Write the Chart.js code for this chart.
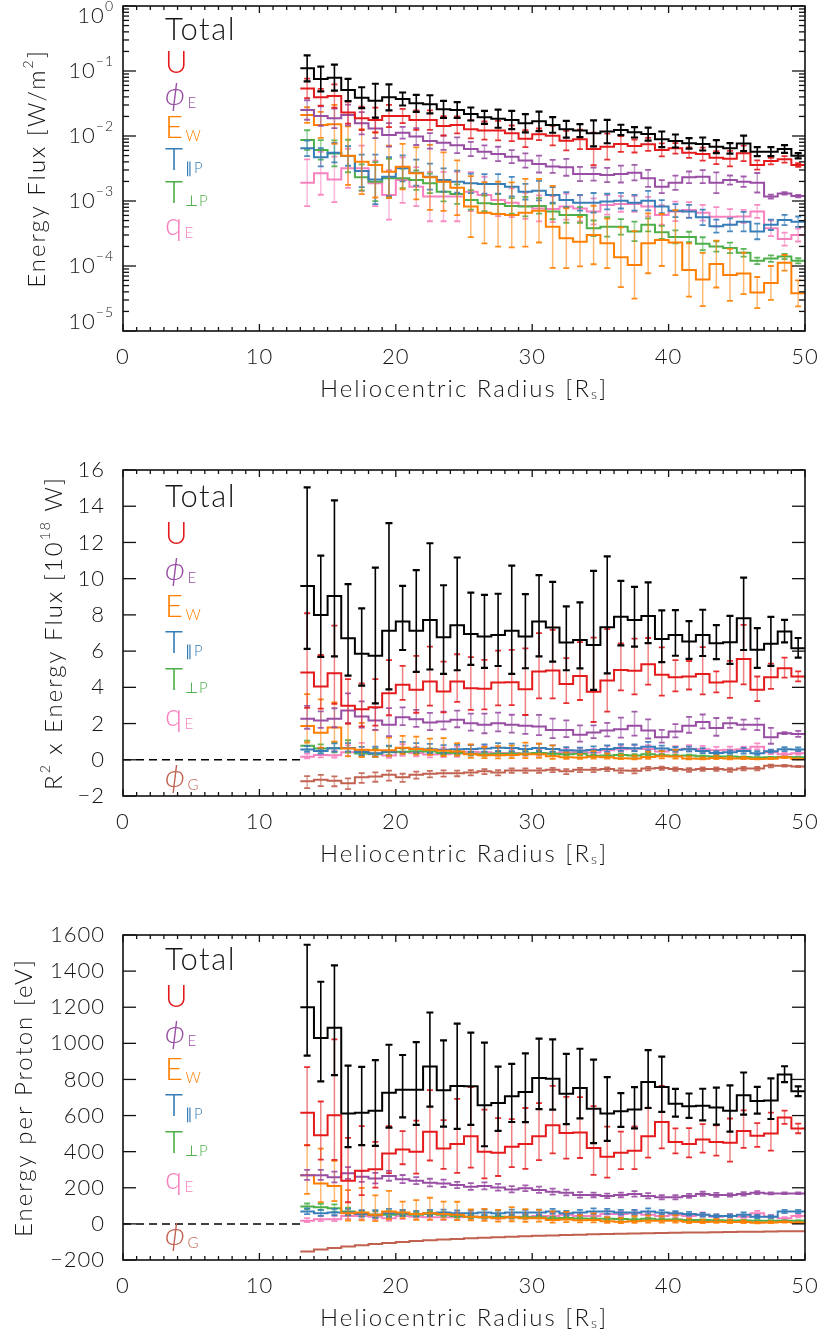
<!DOCTYPE html>
<html><head><meta charset="utf-8">
<script src="https://cdn.jsdelivr.net/npm/chart.js@4.4.0/dist/chart.umd.min.js"></script>
<style>
html,body{margin:0;padding:0;background:#fff;}
#wrap{position:relative;width:823px;height:1338px;overflow:hidden;background:#fff;}
canvas{position:absolute;left:0;}
</style></head><body>
<div id="wrap">
<canvas id="c1" width="823" height="440" style="top:-20px"></canvas>
<canvas id="c2" width="823" height="460" style="top:420px"></canvas>
<canvas id="c3" width="823" height="458" style="top:880px"></canvas>
</div>
<script>
// ---------------- DATA ----------------
const radius = [13.5,14.5,15.5,16.5,17.5,18.5,19.5,20.5,21.5,22.5,23.5,24.5,25.5,26.5,27.5,28.5,29.5,30.5,31.5,32.5,33.5,34.5,35.5,36.5,37.5,38.5,39.5,40.5,41.5,42.5,43.5,44.5,45.5,46.5,47.5,48.5,49.5];
const binHalf = 0.5;

// Panel 1: energy flux [W/m^2]; errors given in dex (log10 half-width)
const flux_total = [0.110,0.0753,0.0789,0.0510,0.0389,0.0350,0.0394,0.0371,0.0318,0.0307,0.0257,0.0251,0.0218,0.0194,0.0185,0.0176,0.0157,0.0168,0.0148,0.0127,0.0121,0.0110,0.0117,0.0124,0.0114,0.0107,0.00889,0.00838,0.00771,0.00753,0.00686,0.00646,0.0077,0.00574,0.00574,0.00631,0.00498];
const fluxErr_total = [0.20,0.19,0.20,0.17,0.16,0.26,0.20,0.10,0.13,0.14,0.13,0.12,0.10,0.10,0.14,0.14,0.14,0.15,0.12,0.13,0.10,0.20,0.18,0.08,0.08,0.10,0.12,0.10,0.08,0.10,0.10,0.08,0.12,0.07,0.07,0.06,0.04];
const flux_U = [0.054,0.0394,0.0412,0.0229,0.0187,0.0176,0.0203,0.0203,0.0176,0.0176,0.0143,0.0148,0.0127,0.0121,0.0121,0.0110,0.0091,0.0106,0.0101,0.00848,0.00889,0.00631,0.00686,0.00753,0.00702,0.00745,0.0061,0.00646,0.00554,0.00528,0.00464,0.00448,0.00541,0.00358,0.00412,0.00437,0.00358];
const fluxErr_U = [0.15,0.13,0.18,0.17,0.18,0.19,0.17,0.11,0.15,0.15,0.15,0.13,0.14,0.14,0.15,0.12,0.13,0.09,0.15,0.15,0.15,0.25,0.20,0.12,0.10,0.10,0.10,0.08,0.08,0.10,0.10,0.12,0.12,0.07,0.05,0.05,0.03];
const flux_phiE = [0.0251,0.0203,0.0187,0.0210,0.0157,0.0131,0.0104,0.0112,0.0098,0.0084,0.0079,0.0072,0.0063,0.0057,0.0053,0.0048,0.0042,0.0037,0.0034,0.0033,0.0026,0.0026,0.00251,0.0026,0.00273,0.00223,0.00166,0.00191,0.00231,0.00237,0.00191,0.0021,0.00198,0.00191,0.00117,0.00131,0.00119];
const fluxErr_phiE = [0.15,0.15,0.15,0.16,0.17,0.15,0.18,0.09,0.13,0.12,0.11,0.12,0.11,0.10,0.11,0.10,0.11,0.13,0.10,0.13,0.11,0.10,0.11,0.13,0.12,0.13,0.10,0.11,0.09,0.10,0.16,0.07,0.08,0.15,0.03,0.02,0.02];
const flux_Ew = [0.0210,0.0148,0.0151,0.00498,0.00403,0.00358,0.00282,0.00337,0.00267,0.00231,0.00198,0.0016,0.00082,0.00066,0.00063,0.00061,0.00066,0.00071,0.00040,0.000267,0.000237,0.0003,0.000223,0.000136,0.000104,0.000223,0.000251,0.000229,8.7e-5,6.2e-5,1.07e-4,7.3e-5,7.7e-5,3.9e-5,5.5e-5,1.12e-4,3.8e-5];
const fluxErr_Ew = [0.12,0.20,0.30,0.45,0.50,0.50,0.40,0.35,0.40,0.50,0.45,0.42,0.47,0.47,0.50,0.50,0.52,0.49,0.63,0.46,0.38,0.45,0.38,0.46,0.52,0.46,0.40,0.50,0.41,0.41,0.36,0.40,0.32,0.24,0.26,0.12,0.20];
const flux_Tpar = [0.00646,0.0047,0.00554,0.00492,0.0029,0.00215,0.00237,0.00318,0.00273,0.00237,0.0021,0.00198,0.00187,0.00183,0.00183,0.00166,0.00139,0.00144,0.00124,0.00104,0.00094,0.00094,0.00098,0.00101,0.00094,0.00101,0.00082,0.00071,0.00069,0.00056,0.00041,0.00043,0.00048,0.00034,0.00043,0.00051,0.00048];
const fluxErr_Tpar = [0.12,0.14,0.15,0.15,0.25,0.38,0.30,0.20,0.20,0.20,0.18,0.17,0.15,0.15,0.15,0.15,0.12,0.15,0.12,0.12,0.12,0.15,0.12,0.12,0.12,0.15,0.10,0.10,0.10,0.12,0.10,0.10,0.15,0.12,0.08,0.08,0.08];
const flux_Tperp = [0.00868,0.0061,0.0054,0.00492,0.00231,0.00198,0.00223,0.00223,0.0021,0.00187,0.00139,0.00128,0.00104,0.00092,0.0009,0.00084,0.00082,0.00084,0.00069,0.00061,0.00061,0.00038,0.0004,0.0004,0.00034,0.00043,0.00033,0.00028,0.00028,0.00022,0.0002,0.00019,0.00016,0.00012,0.00013,0.00014,0.00012];
const fluxErr_Tperp = [0.15,0.15,0.20,0.25,0.20,0.30,0.30,0.15,0.15,0.15,0.15,0.15,0.15,0.12,0.15,0.12,0.15,0.12,0.12,0.12,0.12,0.12,0.15,0.12,0.15,0.10,0.10,0.10,0.08,0.10,0.08,0.08,0.06,0.05,0.05,0.04,0.04];
const flux_qE = [0.00191,0.00267,0.00215,0.00318,0.00318,0.00187,0.00124,0.0021,0.00166,0.00117,0.00117,0.00117,0.00139,0.00124,0.00104,0.00094,0.00084,0.00077,0.00075,0.00082,0.00077,0.00069,0.00087,0.0009,0.0009,0.00082,0.00061,0.00069,0.00073,0.00066,0.00057,0.00057,0.00058,0.00069,0.00038,0.00026,0.0003];
const fluxErr_qE = [0.36,0.33,0.35,0.30,0.35,0.35,0.38,0.35,0.30,0.38,0.38,0.38,0.30,0.28,0.25,0.22,0.20,0.20,0.20,0.20,0.20,0.20,0.15,0.12,0.12,0.15,0.15,0.15,0.12,0.12,0.15,0.12,0.10,0.10,0.12,0.10,0.10];

// Panel 2: R^2 x energy flux [10^18 W]
const pow_total = [9.60,8.00,9.04,6.71,5.85,5.75,7.13,7.63,7.13,7.72,6.76,7.43,6.95,6.80,6.89,7.13,6.80,7.63,7.30,6.47,6.62,6.34,7.32,7.90,7.72,7.94,6.67,6.89,6.53,6.89,6.43,6.49,7.81,6.07,6.40,7.08,6.16];
const powErr_total = [0.195,0.149,0.2,0.16,0.155,0.266,0.263,0.1,0.167,0.19,0.154,0.177,0.123,0.127,0.124,0.177,0.129,0.126,0.129,0.117,0.118,0.216,0.186,0.097,0.092,0.091,0.092,0.079,0.069,0.08,0.063,0.088,0.11,0.078,0.091,0.038,0.038];
const pow_U = [4.82,4.04,4.78,2.98,2.79,2.90,3.68,4.14,3.86,4.32,3.77,4.32,3.95,3.92,4.26,4.28,3.90,4.87,4.93,4.19,4.63,3.75,4.38,4.96,4.91,5.28,4.69,4.56,4.60,4.74,4.26,4.32,5.57,3.86,4.56,5.06,4.60];
const powErr_U = [0.225,0.156,0.19,0.174,0.18,0.186,0.175,0.098,0.172,0.16,0.158,0.13,0.157,0.148,0.151,0.152,0.198,0.157,0.163,0.127,0.147,0.255,0.217,0.112,0.134,0.105,0.122,0.082,0.074,0.118,0.059,0.102,0.126,0.076,0.066,0.047,0.026];
const pow_phiE = [2.26,2.17,2.26,2.72,2.39,2.17,1.93,2.35,2.24,2.06,2.11,2.21,2.02,1.93,2.02,1.93,1.88,1.84,1.65,1.65,1.38,1.51,1.62,1.69,1.88,1.62,1.25,1.56,1.88,2.08,1.75,2.02,1.93,1.93,1.25,1.47,1.42];
const powErr_phiE = [0.12,0.09,0.10,0.13,0.13,0.12,0.17,0.09,0.09,0.10,0.10,0.09,0.10,0.12,0.11,0.11,0.12,0.13,0.14,0.12,0.14,0.10,0.10,0.14,0.15,0.14,0.12,0.10,0.10,0.08,0.12,0.06,0.06,0.07,0.15,0.015,0.05];
const pow_Ew = [1.86,1.49,1.78,0.62,0.56,0.52,0.52,0.66,0.60,0.56,0.50,0.46,0.30,0.25,0.25,0.26,0.30,0.30,0.20,0.14,0.13,0.17,0.14,0.09,0.07,0.16,0.19,0.18,0.073,0.054,0.098,0.07,0.077,0.041,0.06,0.128,0.045];
const powErr_Ew = [0.29,0.35,0.25,0.51,0.56,0.50,0.37,0.30,0.33,0.32,0.38,0.30,0.45,0.45,0.48,0.48,0.50,0.47,0.60,0.45,0.38,0.45,0.38,0.45,0.50,0.45,0.40,0.48,0.40,0.40,0.36,0.40,0.32,0.24,0.26,0.12,0.20];
const pow_Tpar = [0.57,0.48,0.64,0.65,0.43,0.36,0.44,0.65,0.61,0.58,0.56,0.58,0.59,0.62,0.67,0.65,0.59,0.65,0.60,0.53,0.51,0.54,0.60,0.65,0.64,0.72,0.62,0.56,0.58,0.49,0.38,0.41,0.48,0.36,0.47,0.58,0.57];
const powErr_Tpar = [0.12,0.14,0.15,0.15,0.22,0.30,0.25,0.18,0.18,0.18,0.16,0.15,0.14,0.14,0.14,0.14,0.12,0.14,0.12,0.12,0.12,0.14,0.12,0.12,0.12,0.14,0.10,0.10,0.10,0.12,0.10,0.10,0.14,0.12,0.08,0.08,0.08];
const pow_Tperp = [0.77,0.62,0.63,0.65,0.34,0.33,0.41,0.45,0.47,0.46,0.37,0.37,0.33,0.31,0.33,0.33,0.35,0.38,0.33,0.31,0.33,0.22,0.24,0.26,0.23,0.31,0.25,0.22,0.23,0.19,0.18,0.18,0.16,0.13,0.14,0.16,0.14];
const powErr_Tperp = [0.14,0.14,0.18,0.22,0.18,0.26,0.26,0.14,0.14,0.14,0.14,0.14,0.14,0.12,0.14,0.12,0.14,0.12,0.12,0.12,0.12,0.12,0.14,0.12,0.14,0.10,0.10,0.10,0.08,0.10,0.08,0.08,0.06,0.05,0.05,0.04,0.04];
const pow_qE = [0.17,0.27,0.25,0.42,0.47,0.31,0.23,0.43,0.37,0.29,0.31,0.34,0.44,0.42,0.38,0.37,0.35,0.35,0.36,0.42,0.42,0.40,0.53,0.58,0.61,0.59,0.46,0.55,0.61,0.58,0.52,0.55,0.58,0.72,0.41,0.30,0.36];
const powErr_qE = [0.30,0.30,0.30,0.28,0.30,0.30,0.33,0.30,0.28,0.33,0.33,0.33,0.28,0.26,0.24,0.20,0.20,0.20,0.20,0.18,0.18,0.18,0.15,0.12,0.12,0.14,0.14,0.14,0.12,0.12,0.14,0.12,0.10,0.10,0.12,0.10,0.10];
const pow_phiG = [-1.19,-1.10,-1.16,-1.29,-0.97,-0.92,-0.83,-0.97,-0.83,-0.77,-0.74,-0.74,-0.70,-0.64,-0.70,-0.59,-0.59,-0.59,-0.55,-0.64,-0.55,-0.55,-0.51,-0.59,-0.61,-0.48,-0.46,-0.51,-0.55,-0.51,-0.51,-0.55,-0.48,-0.48,-0.33,-0.33,-0.37];
const powErr_phiG = [0.12,0.12,0.10,0.10,0.12,0.12,0.14,0.10,0.10,0.10,0.10,0.09,0.09,0.09,0.09,0.09,0.09,0.09,0.09,0.09,0.09,0.09,0.09,0.09,0.09,0.09,0.08,0.08,0.08,0.08,0.08,0.08,0.08,0.08,0.10,0.06,0.04];

// Panel 3: energy per proton [eV]
const epp_total = [1200,1029,1086,611,616,626,727,743,743,872,740,764,762,657,670,707,730,808,804,721,753,638,611,624,633,786,758,666,651,655,644,626,712,681,684,828,734];
const eppErr_total = [0.11,0.115,0.12,0.157,0.15,0.161,0.135,0.1,0.132,0.128,0.138,0.162,0.143,0.184,0.114,0.098,0.112,0.104,0.104,0.116,0.11,0.154,0.124,0.065,0.078,0.088,0.087,0.05,0.045,0.058,0.069,0.088,0.071,0.047,0.071,0.023,0.016];
const epp_U = [615,491,602,239,294,302,390,412,399,510,418,442,486,399,394,427,442,486,546,504,506,421,372,394,405,486,565,454,442,467,454,449,515,488,500,589,528];
const eppErr_U = [0.15,0.14,0.23,0.30,0.265,0.177,0.142,0.096,0.156,0.162,0.138,0.195,0.193,0.2,0.172,0.133,0.162,0.139,0.146,0.145,0.142,0.19,0.161,0.113,0.125,0.122,0.131,0.066,0.079,0.073,0.08,0.114,0.087,0.058,0.091,0.027,0.022];
const epp_phiE = [270,270,258,280,261,252,265,247,239,228,224,215,206,210,202,191,197,188,178,173,160,160,155,160,166,155,147,147,155,166,160,160,166,173,169,169,169];
const eppErr_phiE = [0.045,0.045,0.05,0.05,0.05,0.05,0.045,0.04,0.035,0.04,0.04,0.035,0.04,0.04,0.04,0.04,0.035,0.04,0.04,0.04,0.04,0.035,0.035,0.035,0.04,0.04,0.035,0.035,0.03,0.03,0.03,0.025,0.025,0.02,0.015,0.012,0.012];
const epp_Ew = [270,224,210,59,63,50,68,63,55,59,55,50,40,37,31,37,31,31,22,25,20,22,15,12,15,18,18,18,12,10,12,10,10,6,8,10,6];
const eppErr_Ew = [0.21,0.27,0.22,0.5,0.5,0.5,0.43,0.29,0.38,0.39,0.35,0.39,0.3,0.35,0.4,0.4,0.42,0.4,0.5,0.42,0.38,0.42,0.38,0.42,0.45,0.42,0.38,0.42,0.38,0.38,0.35,0.38,0.3,0.25,0.25,0.12,0.2];
const epp_Tpar = [68,59,63,63,55,50,59,59,55,59,63,59,59,63,59,63,63,63,68,59,63,68,68,63,63,68,63,59,55,50,44,44,50,40,40,68,68];
const eppErr_Tpar = [0.1,0.12,0.12,0.12,0.14,0.18,0.15,0.12,0.12,0.12,0.1,0.1,0.1,0.1,0.1,0.1,0.09,0.1,0.09,0.09,0.09,0.1,0.09,0.09,0.09,0.1,0.08,0.08,0.08,0.09,0.08,0.08,0.1,0.09,0.07,0.06,0.06];
const epp_Tperp = [96,92,86,68,55,50,50,55,50,55,50,44,40,37,40,37,37,37,31,32,30,28,28,27,25,28,25,24,22,21,20,19,19,18,18,18,17];
const eppErr_Tperp = [0.07,0.08,0.1,0.12,0.12,0.15,0.15,0.1,0.1,0.1,0.1,0.1,0.1,0.09,0.1,0.09,0.1,0.09,0.09,0.09,0.09,0.09,0.1,0.09,0.1,0.08,0.08,0.08,0.07,0.08,0.07,0.07,0.06,0.05,0.05,0.04,0.04];
const epp_qE = [18,26,26,44,44,40,31,44,40,37,37,37,40,40,37,40,40,44,44,50,44,44,55,55,59,50,44,50,44,50,40,44,40,59,40,31,44];
const eppErr_qE = [0.25,0.22,0.24,0.2,0.22,0.22,0.25,0.22,0.2,0.24,0.24,0.24,0.2,0.18,0.16,0.15,0.14,0.14,0.14,0.14,0.14,0.14,0.12,0.1,0.1,0.12,0.12,0.12,0.1,0.1,0.12,0.1,0.08,0.09,0.1,0.08,0.08];
const epp_phiG = [-153,-142,-133,-125,-118,-111,-106,-100,-95,-91,-87,-83,-80,-77,-74,-71,-68,-66,-64,-62,-60,-58,-56,-55,-53,-52,-50,-49,-48,-47,-46,-45,-44,-43,-42,-41,-41];

// zero reference line (dashed) extent along x
const zeroLineX = [0, 13];

// tick values / labels
const xTicks = [0,10,20,30,40,50];
const xTickLabels = ['0','10','20','30','40','50'];
const logTicks = [1e-5,1e-4,1e-3,1e-2,1e-1,1];
const logTickBase = '10';
const logTickExp = ['\u22125','\u22124','\u22123','\u22122','\u22121','0'];
const powTicks = [-2,0,2,4,6,8,10,12,14,16];
const powTickLabels = ['\u22122','0','2','4','6','8','10','12','14','16'];
const eppTicks = [-200,0,200,400,600,800,1000,1200,1400,1600];
const eppTickLabels = ['\u2212200','0','200','400','600','800','1000','1200','1400','1600'];

// legend
const seriesMain = ['Total','U','\u03D5','E','T','T','q','\u03D5'];
const seriesSub  = ['','','E','W','\u2225P','\u22A5P','E','G'];
const seriesColor = ['#000000','#e41a1c','#984ea3','#ff7f00','#377eb8','#4daf4a','#f781bf','#c1614f'];

// ---------------- RENDERING ----------------
const FONT = "'Lato','DejaVu Sans',sans-serif";
const TXT = '#151515';

function stepPts(vals){
  const pts = radius.map((c,i)=>({x:c-binHalf, y:vals[i]}));
  pts.push({x:radius[radius.length-1]+binHalf, y:vals[vals.length-1]});
  return pts;
}
function rgba(hex,a){
  const n=parseInt(hex.slice(1),16);
  return `rgba(${(n>>16)&255},${(n>>8)&255},${n&255},${a})`;
}
function series(vals, errs, k){
  return {data:stepPts(vals), vals, errs, stepped:'before', borderColor:seriesColor[k],
    borderWidth:2, pointRadius:0, fill:false, order:k, tension:0, isBlack:k===0};
}
function zeroLine(){
  return {data:[{x:zeroLineX[0],y:0},{x:zeroLineX[1],y:0}], borderColor:'#000', borderWidth:1.5,
    borderDash:[8,5], pointRadius:0, fill:false, order:20};
}

const errPlugin = {
  id:'errbars',
  beforeDraw(chart){ chart.ctx.letterSpacing='1px'; },
  afterDatasetDraw(chart, args){
    const ds = chart.data.datasets[args.index];
    if(!ds.errs) return;
    const {ctx, chartArea:a, scales:{x,y}} = chart;
    ctx.save();
    ctx.beginPath(); ctx.rect(a.left,a.top,a.right-a.left,a.bottom-a.top); ctx.clip();
    const col = ds.borderColor;
    radius.forEach((c,i)=>{
      const v = ds.vals[i], f = Math.pow(10, ds.errs[i]);
      const v1 = v*f, v2 = v/f;
      const px = x.getPixelForValue(c);
      const p1 = y.getPixelForValue(v1), p2 = y.getPixelForValue(v2);
      ctx.strokeStyle = ds.isBlack ? '#000' : rgba(col,0.55);
      ctx.lineWidth = ds.isBlack ? 1.6 : 1.5;
      ctx.beginPath(); ctx.moveTo(px,p1); ctx.lineTo(px,p2); ctx.stroke();
      ctx.strokeStyle = ds.isBlack ? '#000' : rgba(col,0.9);
      ctx.lineWidth = ds.isBlack ? 2.2 : 1.8;
      const hw = ds.isBlack ? 3.5 : 3;
      ctx.beginPath();
      ctx.moveTo(px-hw,p1); ctx.lineTo(px+hw,p1);
      ctx.moveTo(px-hw,p2); ctx.lineTo(px+hw,p2);
      ctx.stroke();
    });
    ctx.restore();
  }
};

function drawRich(ctx, segs, x, y, align, spacing){
  ctx.letterSpacing = (spacing||0)+'px';
  let w=0;
  segs.forEach(s=>{ctx.font=`${s.it?'italic ':''}300 ${s.size}px ${FONT}`; s._w=ctx.measureText(s.t).width; w+=s._w;});
  let cx = align==='center' ? x-w/2 : (align==='right' ? x-w : x);
  segs.forEach(s=>{ctx.font=`${s.it?'italic ':''}300 ${s.size}px ${FONT}`; ctx.fillStyle=s.color||TXT; ctx.fillText(s.t,cx,y+(s.dy||0)); cx+=s._w;});
  return w;
}

const idlPlugin = {
  id:'idl',
  afterDatasetsDraw(chart, args, o){
    const {ctx, chartArea:a, scales:{x,y}} = chart;
    ctx.save();
    ctx.strokeStyle='#111'; ctx.lineWidth=1.3;
    const ln=(x1,y1,x2,y2)=>{ctx.beginPath();ctx.moveTo(x1,y1);ctx.lineTo(x2,y2);ctx.stroke();};
    for(let v=x.min; v<=x.max; v+=1){
      const px=x.getPixelForValue(v);
      const L = xTicks.includes(v)?7:4;
      ln(px,a.bottom,px,a.bottom-L); ln(px,a.top,px,a.top+L);
    }
    o.yMajor.forEach(v=>{const py=y.getPixelForValue(v); ln(a.left,py,a.left+13,py); ln(a.right,py,a.right-13,py);});
    (o.yMinor||[]).forEach(v=>{const py=y.getPixelForValue(v); ln(a.left,py,a.left+6,py); ln(a.right,py,a.right-6,py);});
    ctx.lineWidth=1.6;
    ctx.strokeRect(a.left,a.top,a.right-a.left,a.bottom-a.top);
    // custom log tick labels (base + superscript exponent)
    if(o.logLabels){
      ctx.textBaseline='middle';
      logTicks.forEach((v,i)=>{
        let py = y.getPixelForValue(v);
        if(i===logTicks.length-1) py += 10;   // top label kept inside
        if(i===0) py -= 9;                     // bottom label kept inside
        drawRich(ctx, [{t:logTickBase,size:22},{t:logTickExp[i],size:14,dy:-10}], a.left-9, py, 'right', 1);
      });
    }
    // legend
    ctx.textBaseline='alphabetic';
    o.legend.forEach((k,j)=>{
      const by = a.top + (o.legendOffsets[j]);
      const lx = a.left + 42;
      const col = k===0 ? TXT : seriesColor[k];
      const isPhi = seriesMain[k]==='\u03D5';
      const w = drawRich(ctx, [{t:seriesMain[k], size:31, color:col, it:isPhi}], lx, by, 'left', 1.5);
      if(seriesSub[k]){
        drawRich(ctx, [{t:seriesSub[k], size:15, color:col}], lx+w+1, by+3, 'left', 0.5);
      }
    });
    // y title (rotated)
    ctx.save();
    ctx.translate(o.yTitleX, (a.top+a.bottom)/2);
    ctx.rotate(-Math.PI/2);
    ctx.textBaseline='middle';
    drawRich(ctx, o.yTitle, 0, 0, 'center', 2);
    ctx.restore();
    // x title
    ctx.textBaseline='middle';
    drawRich(ctx, [{t:'Heliocentric Radius [R',size:24},{t:'s',size:14,dy:5},{t:']',size:24}], (a.left+a.right)/2, a.bottom+58, 'center', 2);
    ctx.restore();
  }
};

function xScale(){
  return {type:'linear', min:0, max:50,
    afterBuildTicks:s=>{s.ticks = xTicks.map(v=>({value:v}));},
    grid:{display:false}, border:{display:false},
    ticks:{padding:5, color:TXT, font:{family:FONT, size:22, weight:'300'}, maxRotation:0, autoSkip:false,
      callback:(v)=>xTickLabels[xTicks.indexOf(v)]}};
}
function yScale(type,min,max,ticks,labels,show){
  return {type, min, max,
    afterBuildTicks:s=>{s.ticks = ticks.map(v=>({value:v}));},
    afterFit:s=>{s.width=123;},
    grid:{display:false}, border:{display:false},
    ticks:{display:show, padding:10, color:TXT, font:{family:FONT, size:22, weight:'300'}, autoSkip:false,
      callback:(v)=>{const i=ticks.findIndex(t=>Math.abs(t-v)<=Math.abs(t)*1e-6+1e-12); return (i>=0&&labels)?labels[i]:'';}}};
}

function makeChart(id, datasets, ysc, padTop, xH, idlOpts){
  const xs = xScale();
  xs.afterFit = s=>{s.height = xH;};
  return new Chart(document.getElementById(id), {
    type:'line',
    data:{datasets},
    options:{responsive:false, animation:false, events:[],
      layout:{padding:{top:padTop,right:18,bottom:0,left:0}},
      scales:{x:xs, y:ysc},
      plugins:{legend:{display:false}, tooltip:{enabled:false}, idl:idlOpts}},
    plugins:[errPlugin, idlPlugin]
  });
}

// log minor ticks
const logMinor=[];
logTicks.slice(0,-1).forEach(d=>{for(let m=2;m<=9;m++) logMinor.push(m*d);});

makeChart('c1', [
  series(flux_total,fluxErr_total,0), series(flux_U,fluxErr_U,1), series(flux_phiE,fluxErr_phiE,2),
  series(flux_Ew,fluxErr_Ew,3), series(flux_Tpar,fluxErr_Tpar,4), series(flux_Tperp,fluxErr_Tperp,5),
  series(flux_qE,fluxErr_qE,6)
], yScale('logarithmic',1e-5,1,logTicks,null,false), 26, 89, {
  yMajor:logTicks, yMinor:logMinor, logLabels:true, legend:[0,1,2,3,4,5,6],
  legendOffsets:[34,66.5,99,131.5,164,196.5,229], yTitleX:37,
  yTitle:[{t:'Energy Flux [W/m',size:24},{t:'2',size:14,dy:-9},{t:']',size:24}]
});

makeChart('c2', [
  series(pow_total,powErr_total,0), series(pow_U,powErr_U,1), series(pow_phiE,powErr_phiE,2),
  series(pow_Ew,powErr_Ew,3), series(pow_Tpar,powErr_Tpar,4), series(pow_Tperp,powErr_Tperp,5),
  series(pow_qE,powErr_qE,6), series(pow_phiG,powErr_phiG,7), zeroLine()
], yScale('linear',-2,16,powTicks,powTickLabels,true), 50, 84, {
  yMajor:powTicks, legend:[0,1,2,3,4,5,6,7],
  legendOffsets:[37,73.5,110,146.5,183,219.5,256,317], yTitleX:54,
  yTitle:[{t:'R',size:24},{t:'2',size:14,dy:-9},{t:' x Energy Flux [10',size:24},{t:'18',size:14,dy:-9},{t:' W]',size:24}]
});

makeChart('c3', [
  series(epp_total,eppErr_total,0), series(epp_U,eppErr_U,1), series(epp_phiE,eppErr_phiE,2),
  series(epp_Ew,eppErr_Ew,3), series(epp_Tpar,eppErr_Tpar,4), series(epp_Tperp,eppErr_Tperp,5),
  series(epp_qE,eppErr_qE,6), series(epp_phiG,null,7), zeroLine()
], yScale('linear',-200,1600,eppTicks,eppTickLabels,true), 55, 78, {
  yMajor:eppTicks, legend:[0,1,2,3,4,5,6,7],
  legendOffsets:[35,71.5,108,144.5,181,217.5,254,310], yTitleX:24,
  yTitle:[{t:'Energy per Proton [eV]',size:24}]
});
</script>
</body></html>
